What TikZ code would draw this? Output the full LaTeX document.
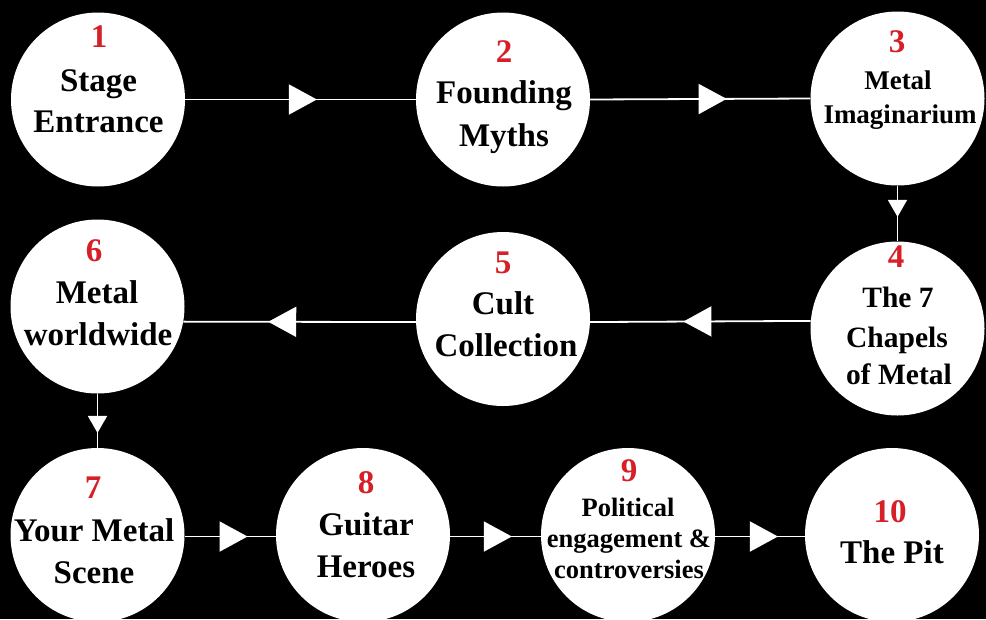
\documentclass[tikz,border=0pt]{standalone}
\usepackage{fontspec}
\setmainfont{Liberation Serif}
\usetikzlibrary{arrows.meta,decorations.markings}
\definecolor{numred}{RGB}{214,32,40}
\begin{document}
\begin{tikzpicture}[x=1pt,y=-1pt,
  circ/.style={circle, fill=white, minimum size=174pt, inner sep=0pt},
  lbl/.style={anchor=base, inner sep=0pt, text=black, font=\bfseries\fontsize{33}{40}\selectfont},
  lblm/.style={lbl, font=\bfseries\fontsize{29.5}{36}\selectfont},
  lbls/.style={lbl, font=\bfseries\fontsize{27}{32}\selectfont},
  lblxs/.style={lbl, font=\bfseries\fontsize{26.5}{32}\selectfont},
  num/.style={lbl, text=numred, font=\bfseries\fontsize{33}{38}\selectfont},
  conn/.style={draw=white, color=white, line width=1.8pt},
  bigarrow/.style={conn, postaction={decorate}, decoration={markings,
      mark=at position #1 with {\arrow[white]{Triangle[length=28pt,width=30pt]}}}},
  smallarrow/.style={conn, postaction={decorate}, decoration={markings,
      mark=at position #1 with {\arrow[white]{Triangle[length=17pt,width=19pt]}}}}
]
\fill[black] (0,0) rectangle (986,619);
\useasboundingbox (0,0) rectangle (986,619);

% circles
\node[circ] (c1) at (98,99.5) {};
\node[circ] (c2) at (503,99.5) {};
\node[circ] (c3) at (897.5,98.5) {};
\node[circ] (c4) at (897.5,328.5) {};
\node[circ] (c5) at (503,319) {};
\node[circ] (c6) at (97.5,306.5) {};
\node[circ] (c7) at (97.5,535) {};
\node[circ] (c8) at (363,535) {};
\node[circ] (c9) at (628,535) {};
\node[circ] (c10) at (892,535) {};

% connectors
\draw[bigarrow=0.571] (c1.east) -- (c2.west);
\draw[bigarrow=0.62] (c2.east) -- (c3.west);
\draw[smallarrow=0.56] (c3.south) -- (c4.north);
\draw[bigarrow=0.577] (c4.175.7) -- (c5.-2);
\draw[bigarrow=0.635] (c5.182) -- (c6.-10.3);
\draw[smallarrow=0.725] (c6.south) -- (c7.north);
\draw[bigarrow=0.69] (c7.-1.3) -- (c8.181.3);
\draw[bigarrow=0.68] (c8.-1.3) -- (c9.181.3);
\draw[bigarrow=0.70] (c9.-1.3) -- (c10.181.3);

% texts
\node[num] (n1) at (99,47) {1};
\node[lbl] (t1a) at (98.5,91) {Stage};
\node[lbl] (t1b) at (98.5,132) {Entrance};

\node[num] (n2) at (504,62) {2};
\node[lbl] (t2a) at (504,103) {Founding};
\node[lbl] (t2b) at (504,146) {Myths};

\node[num] (n3) at (897,52) {3};
\node[lbls] (t3a) at (898,89) {Metal};
\node[lbls] (t3b) at (900,123) {Imaginarium};

\node[num] (n4) at (896,267) {4};
\node[lblm] (t4a) at (898,307) {The 7};
\node[lblm] (t4b) at (897,347) {Chapels};
\node[lblm] (t4c) at (899,384) {of Metal};

\node[num] (n5) at (503,273) {5};
\node[lbl] (t5a) at (503,314) {Cult};
\node[lbl] (t5b) at (506,356) {Collection};

\node[num] (n6) at (94,261) {6};
\node[lbl] (t6a) at (97,303) {Metal};
\node[lbl] (t6b) at (98,345) {worldwide};

\node[num] (n7) at (93,498) {7};
\node[lbl] (t7a) at (94,541) {Your Metal};
\node[lbl] (t7b) at (94,583) {Scene};

\node[num] (n8) at (366,493) {8};
\node[lbl] (t8a) at (366,535) {Guitar};
\node[lbl] (t8b) at (366,577) {Heroes};

\node[num] (n9) at (629,481) {9};
\node[lblxs] (t9a) at (628,516) {Political};
\node[lblxs] (t9b) at (629,547) {engagement \&};
\node[lblxs] (t9c) at (629,578) {controversies};

\node[num] (n10) at (890,522) {10};
\node[lbl] (t10a) at (892,563) {The Pit};
\end{tikzpicture}
\end{document}
